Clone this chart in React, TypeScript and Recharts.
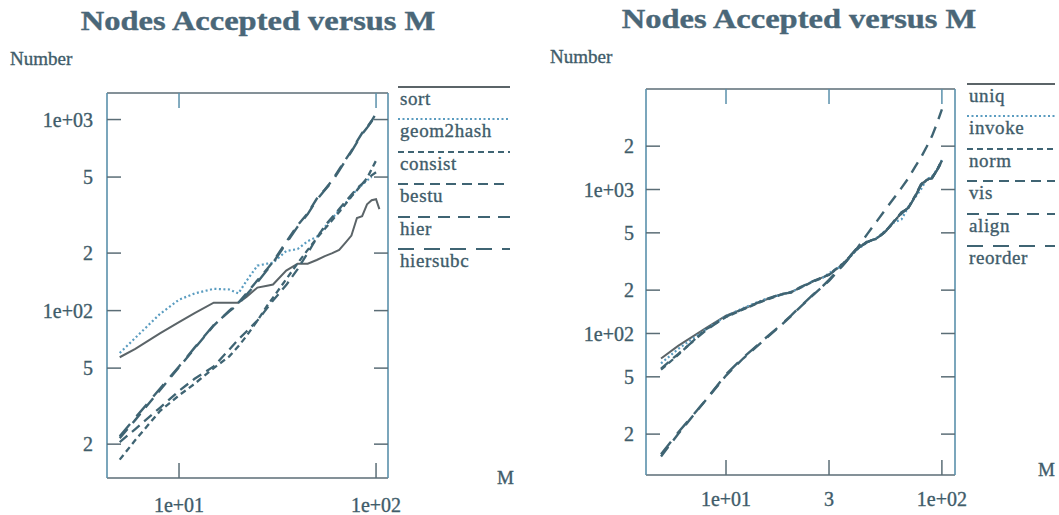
import React from 'react';
import { LineChart, Line, XAxis, YAxis, Legend } from 'recharts';

// ---- left panel: M values and node counts ----
const leftM = [5, 6, 8, 10, 12, 15, 18, 20, 22, 25, 28, 30, 35, 40, 45, 50, 55, 60, 65, 70, 75, 80, 85, 90, 95, 100, 104];
const sortN = [57, 63, 76, 87, 97, 110, 110, 110, 118, 132, 135, 137, 162, 176, 176, 184, 193, 200, 208, 227, 247, 305, 312, 360, 378, 383, 340];
const geom2hashN = [60, 72, 96, 114, 123, 130, 129, 123, 143, 172, 176, 178, 205, 210, 231, 243, 274, 305, 335, 365, 398, 430, 455, 480, 500, null, null];
const consistN = [16.6, 21, 29.8, 36, 41.4, 50, 57.6, 65, 73.6, 88.7, 106, 117, 146, 177, 208, 239, 268, 298, 328, 361, 395, 427, 460, 493, 550, 610, null];
const bestuN = [20.5, 24, 31, 38, 44, 51, 62.6, 70.6, 77.7, 88.7, 103, 113, 136, 165, 200, 240, 278, 309, 340, 372, 404, 437, 461, 485, 510, 530, null];
const hierN = [21.5, 26.8, 38.3, 50.5, 63.4, 83.5, 100, 110, 123, 144, 165, 180, 229, 280, 323, 385, 430, 481, 549, 616, 685, 768, 850, 910, 985, 1075, null];
const hiersubcN = [22, 27.5, 39, 51, 64, 84, 99, 108, 121, 141, 163, 178, 225, 275, 320, 380, 428, 475, 540, 610, 680, 760, 840, 905, 980, 1060, null];

// ---- right panel ----
const rightM = [5, 6, 8, 10, 12, 15, 18, 20, 22, 25, 28, 30, 35, 40, 45, 50, 55, 60, 65, 70, 75, 80, 85, 90, 95, 100];
const uniqN = [67, 82, 108, 133, 148, 170, 187, 193, 208, 228, 245, 256, 304, 383, 431, 459, 513, 598, 690, 745, 889, 1080, 1170, 1200, 1370, 1585];
const invokeN = [62, 78, 106, 132, 150, 172, 186, 195, 206, 230, 243, 262, 300, 378, 428, 462, 520, 590, 620, 760, 880, 1000, 1180, 1230, 1380, 1600];
const normN = [56, 71, 106, 130, 147, 169, 186, 194, 207, 227, 244, 258, 308, 380, 435, 455, 515, 600, 680, 750, 900, 1070, 1160, 1210, 1360, 1570];
const visN = [57, 72, 104, 131, 148, 171, 188, 192, 209, 229, 246, 255, 305, 385, 430, 460, 510, 605, 695, 740, 895, 1090, 1175, 1195, 1375, 1590];
const alignN = [14, 20, 34, 51, 67, 90, 114, 132, 152, 182, 212, 232, 300, 380, 488, 603, 733, 872, 1026, 1200, 1430, 1670, 1980, 2350, 2890, 3600];
const reorderN = [14.5, 20.5, 34, 52, 68, 91, 115, 133, 153, 183, 213, 236, 302, 382, 432, 460, 515, 600, 688, 748, 885, 1075, 1165, 1205, 1365, 1580];

// ticks
const leftYTicks = [20, 50, 100, 200, 500, 1000];
const leftYLabels = ['2', '5', '1e+02', '2', '5', '1e+03'];
const rightYTicks = [20, 50, 100, 200, 500, 1000, 2000];
const rightYLabels = ['2', '5', '1e+02', '2', '5', '1e+03', '2'];
const leftXTicks = [10, 100];
const leftXLabels = ['1e+01', '1e+02'];
const rightXTicks = [10, 30, 100];
const rightXLabels = ['1e+01', '3', '1e+02'];

const leftNames = ['sort', 'geom2hash', 'consist', 'bestu', 'hier', 'hiersubc'];
const rightNames = ['uniq', 'invoke', 'norm', 'vis', 'align', 'reorder'];

const TEXT = '#3f5c6a';
const FRAME = '#5b6d76';
const SIDE = '#5a90ab';
const SOLID = '#5b6468';
const DOTTED = '#5a9cc0';
const DASHED = '#3f6473';
const FONT = '"Liberation Serif", "Times New Roman", serif';

const lineStyles = [
  { stroke: SOLID, dash: undefined, w: 2 },
  { stroke: DOTTED, dash: '2 2.5', w: 2.2 },
  { stroke: DASHED, dash: '6 4', w: 2.3 },
  { stroke: DASHED, dash: '10 6', w: 2.3 },
  { stroke: DASHED, dash: '12 8', w: 2.4 },
  { stroke: DASHED, dash: '16 10', w: 2.4 },
];

const leftData = leftM.map((m, i) => ({
  M: m,
  sort: sortN[i],
  geom2hash: geom2hashN[i],
  consist: consistN[i],
  bestu: bestuN[i],
  hier: hierN[i],
  hiersubc: hiersubcN[i],
}));

const rightData = rightM.map((m, i) => ({
  M: m,
  uniq: uniqN[i],
  invoke: invokeN[i],
  norm: normN[i],
  vis: visN[i],
  align: alignN[i],
  reorder: reorderN[i],
}));

function makeLegend(names: string[], lineW: number) {
  return () => (
    <div style={{ fontFamily: FONT, color: TEXT }}>
      {names.map((n, i) => (
        <div key={n} style={{ height: 32.4 }}>
          <svg width={lineW} height={4} style={{ display: 'block' }}>
            <line x1={0} y1={2} x2={lineW} y2={2} stroke={lineStyles[i].stroke}
              strokeWidth={2} strokeDasharray={lineStyles[i].dash} />
          </svg>
          <div style={{ fontSize: 19, lineHeight: '20px', paddingLeft: 2, letterSpacing: 0.6, WebkitTextStroke: '0.35px ' + TEXT }}>{n}</div>
        </div>
      ))}
    </div>
  );
}

type PanelProps = {
  data: any[];
  names: string[];
  xDomain: number[];
  yDomain: number[];
  xTicks: number[];
  xLabels: string[];
  yTicks: number[];
  yLabels: string[];
  width: number;
  margin: { top: number; right: number; bottom: number; left: number };
  xMargin: number;
  yMargin: number;
  legendPos: { left: number; top: number; w: number };
};

function Panel(p: PanelProps) {
  const tickStyle = { fill: TEXT, fontSize: 20, fontFamily: FONT, stroke: TEXT, strokeWidth: 0.35 };
  return (
    <LineChart width={p.width} height={515} data={p.data} margin={p.margin}>
      <XAxis xAxisId="b" dataKey="M" type="number" scale="log" domain={p.xDomain} allowDataOverflow
        ticks={p.xTicks} interval={0} height={1} tickSize={-15} tickMargin={p.xMargin}
        tickFormatter={(v: number) => p.xLabels[p.xTicks.indexOf(v)]}
        tick={tickStyle} axisLine={{ stroke: FRAME, strokeWidth: 1.6 }} tickLine={{ stroke: FRAME, strokeWidth: 1.5 }} />
      <XAxis xAxisId="t" orientation="top" dataKey="M" type="number" scale="log" domain={p.xDomain} allowDataOverflow
        ticks={p.xTicks} interval={0} height={1} tickSize={-15} tickFormatter={() => ''}
        axisLine={{ stroke: FRAME, strokeWidth: 1.6 }} tickLine={{ stroke: SIDE, strokeWidth: 1.5 }} />
      <YAxis yAxisId="l" type="number" scale="log" domain={p.yDomain} allowDataOverflow
        ticks={p.yTicks} interval={0} width={1} tickSize={-14} tickMargin={p.yMargin}
        tickFormatter={(v: number) => p.yLabels[p.yTicks.indexOf(v)]}
        tick={tickStyle} axisLine={{ stroke: SIDE, strokeWidth: 1.6 }} tickLine={{ stroke: FRAME, strokeWidth: 1.5 }} />
      <YAxis yAxisId="r" orientation="right" type="number" scale="log" domain={p.yDomain} allowDataOverflow
        ticks={p.yTicks} interval={0} width={1} tickSize={-14} tickFormatter={() => ''}
        axisLine={{ stroke: SIDE, strokeWidth: 1.6 }} tickLine={{ stroke: FRAME, strokeWidth: 1.5 }} />
      {p.names.map((n, i) => (
        <Line key={n} xAxisId="b" yAxisId="l" type="linear" dataKey={n} name={n}
          stroke={lineStyles[i].stroke} strokeWidth={lineStyles[i].w}
          strokeDasharray={lineStyles[i].dash} dot={false} isAnimationActive={false} />
      ))}
      <Legend layout="horizontal" verticalAlign="middle" align="center"
        content={makeLegend(p.names, p.legendPos.w)}
        wrapperStyle={{ left: p.legendPos.left, top: p.legendPos.top, width: p.legendPos.w + 4, height: 200 }} />
    </LineChart>
  );
}

const titleStyle: React.CSSProperties = {
  position: 'absolute', fontFamily: FONT, fontWeight: 'bold', fontSize: 28, color: '#4a6778',
  whiteSpace: 'nowrap', transform: 'scaleX(1.16)', transformOrigin: 'center', lineHeight: '32px',
  WebkitTextStroke: '0.4px #4a6778',
};
const smallStyle: React.CSSProperties = {
  position: 'absolute', fontFamily: FONT, fontSize: 19, color: TEXT, whiteSpace: 'nowrap', lineHeight: '20px',
  WebkitTextStroke: '0.35px ' + TEXT,
};

export default function App() {
  return (
    <div style={{ position: 'absolute', left: 0, top: 0, width: 1059, height: 515, background: '#fff', overflow: 'hidden' }}>
      <div style={{ position: 'absolute', left: 0, top: 0 }}>
        <Panel data={leftData} names={leftNames} xDomain={[4.31, 115]} yDomain={[13.3, 1377]}
          xTicks={leftXTicks} xLabels={leftXLabels} yTicks={leftYTicks} yLabels={leftYLabels}
          width={530} margin={{ top: 92, right: 141, bottom: 36, left: 106 }} xMargin={35} yMargin={28}
          legendPos={{ left: 398, top: 85, w: 112 }} />
      </div>
      <div style={{ position: 'absolute', left: 530, top: 0 }}>
        <Panel data={rightData} names={rightNames} xDomain={[4.26, 115]} yDomain={[10.4, 4990]}
          xTicks={rightXTicks} xLabels={rightXLabels} yTicks={rightYTicks} yLabels={rightYLabels}
          width={529} margin={{ top: 88, right: 103, bottom: 39, left: 115 }} xMargin={32} yMargin={26}
          legendPos={{ left: 437, top: 82, w: 88 }} />
      </div>
      <div style={{ ...titleStyle, left: 80, top: 5, width: 356, textAlign: 'center' }}>Nodes Accepted versus M</div>
      <div style={{ ...titleStyle, left: 620, top: 3, width: 358, textAlign: 'center' }}>Nodes Accepted versus M</div>
      <div style={{ ...smallStyle, left: 10, top: 49 }}>Number</div>
      <div style={{ ...smallStyle, left: 550, top: 47 }}>Number</div>
      <div style={{ ...smallStyle, left: 497, top: 468 }}>M</div>
      <div style={{ ...smallStyle, left: 1038, top: 460 }}>M</div>
    </div>
  );
}
